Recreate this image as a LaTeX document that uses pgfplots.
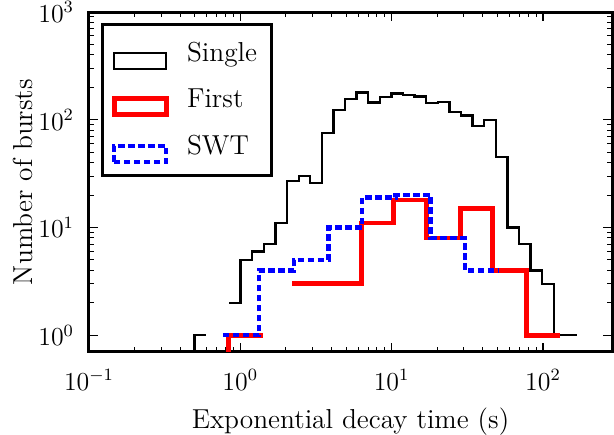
\documentclass[border=0pt]{standalone}
\usepackage{pgfplots}
\pgfplotsset{compat=1.18}
\begin{document}
\begin{tikzpicture}
\def\fs{\fontsize{12}{14.4}\selectfont}
\def\fl{\fontsize{12.7}{15.2}\selectfont}
\begin{axis}[
  name=ax,
  scale only axis, width=241.4bp, height=156.9bp,
  xmode=log, ymode=log,
  xmin=0.1, xmax=286, ymin=0.7, ymax=1000,
  xtick={0.1,1,10,100}, ytick={1,10,100,1000},
  axis line style={line width=1.385bp},
  major tick length=4.15bp, minor tick length=2.3bp,
  every tick/.style={black, line width=0.55bp},
  minor tick style={black, line width=0.46bp},
  tick align=inside, xtick pos=both, ytick pos=both,
  tick label style={font=\fs},
  xticklabel style={yshift=-4.6bp},
  yticklabel style={xshift=-3.4bp},
  every axis x label/.style={at={(axis description cs:0.5,-0.2040)}, anchor=center, font=\fl},
  every axis y label/.style={at={(axis description cs:-0.1262,0.5)}, anchor=center, rotate=90, font=\fl},
  xlabel={Exponential decay time (s)},
  ylabel={Number of bursts},
  legend image code/.code={\draw[#1] (0bp,-9.2bp) rectangle (24bp,-1.8bp);},
  legend cell align=left,
  legend style={
    at={(axis description cs:0,1)}, anchor=north west, xshift=5.68bp, yshift=-5.2bp,
    draw=black, line width=1.385bp, font=\fl,
    inner xsep=4.16bp, inner ysep=5.1bp,
    row sep=5.1bp, column sep=8.5bp,
    nodes={inner sep=0pt, text height=11.98bp, text depth=0.46bp, text width=35bp, align=left},
  },
]
% Single (black)
\addplot[black, line width=1.11bp, line join=miter] coordinates {
(0.844,2) (1.006,2) (1.006,5) (1.200,5) (1.200,6) (1.432,6) (1.432,7) (1.708,7)
(1.708,11) (2.038,11) (2.038,27) (2.432,27) (2.432,30) (2.900,30) (2.900,26) (3.459,26)
(3.459,75) (4.127,75) (4.127,123) (4.923,123) (4.923,155) (5.873,155) (5.873,179) (7.006,179)
(7.006,144) (8.358,144) (8.358,162) (9.970,162) (9.970,176) (11.89,176) (11.89,170) (14.19,170)
(14.19,165) (16.92,165) (16.92,143) (20.19,143) (20.19,147) (24.08,147) (24.08,118) (28.73,118)
(28.73,110) (34.27,110) (34.27,88) (40.89,88) (40.89,100) (48.77,100) (48.77,45) (58.19,45)
(58.19,10) (69.41,10) (69.41,7) (82.80,7) (82.80,4) (98.77,4) (98.77,3) (117.8,3)
(117.8,1) (167.7,1)
};
\addlegendentry{Single}
\addplot[black, line width=1.11bp, line join=miter, forget plot] coordinates {
(0.497,0.7) (0.497,1) (0.593,1)
};
% First (red)
\addplot[red, line width=2.215bp, line join=miter] coordinates {
(2.2026,3) (6.301,3) (6.301,11) (10.326,11) (10.326,18) (17.03,18) (17.03,8) (28.35,8)
(28.35,15) (46.54,15) (46.54,4) (77.45,4) (77.45,1) (130.3,1)
};
\addlegendentry{First}
\addplot[red, line width=2.215bp, line join=miter, forget plot] coordinates {
(0.8361,0.7) (0.8361,1) (1.4068,1)
};
% SWT (blue dashed)
\addplot[blue, line width=2.03bp, line join=miter, dash pattern=on 3.05bp off 1.57bp] coordinates {
(0.7664,1) (1.3291,1) (1.3291,4) (2.2605,4) (2.2605,5) (3.820,5) (3.820,10) (6.369,10)
(6.369,19) (10.599,19) (10.599,20) (18.105,20) (18.105,8) (30.60,8) (30.60,4) (50.47,4)
};
\addlegendentry{SWT}
\end{axis}
\pgfresetboundingbox
\path[use as bounding box] ([xshift=-41.07bp,yshift=-38.3bp]ax.south west) rectangle ([xshift=0.92bp,yshift=5.54bp]ax.north east);
\end{tikzpicture}
\end{document}
